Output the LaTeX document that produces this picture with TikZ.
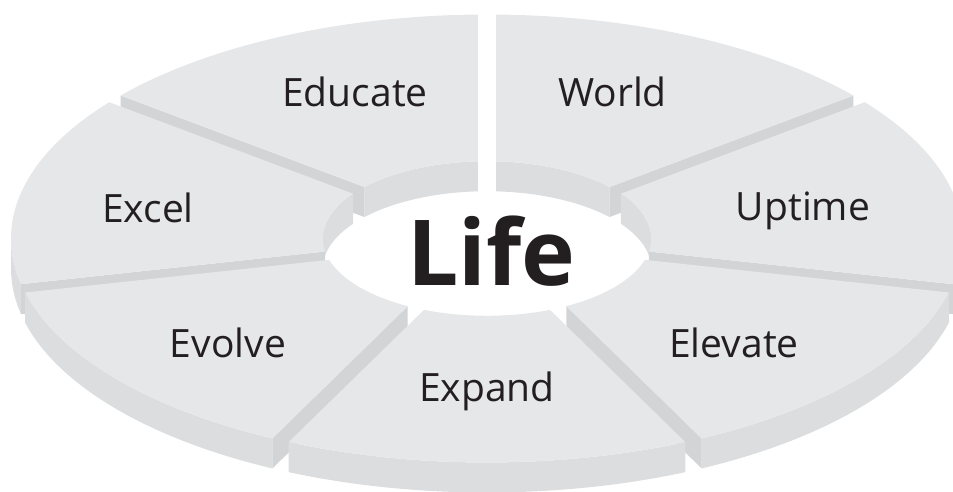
\documentclass[tikz,border=0pt]{standalone}
\usepackage{fontspec}
\setmainfont{Open Sans}
\usetikzlibrary{calc}
\definecolor{topface}{HTML}{E6E7E8}
\definecolor{wallface}{HTML}{DCDDDF}
\definecolor{cutface}{HTML}{D3D4D6}
\definecolor{ink}{HTML}{231F20}
\tikzset{
  topf/.style={fill=topface},
  wallf/.style={fill=wallface},
  cutf/.style={fill=cutface},
  lbl/.style={text=ink, font=\fontsize{39}{46}\selectfont, anchor=base, inner sep=0pt},
  biglbl/.style={text=ink, font=\bfseries\fontsize{91}{108}\selectfont, anchor=base, inner sep=0pt},
}
\newcommand\eo{1.09}
\newcommand\ei{3.16}
\newcommand\rin{0.345}
\newcommand\thk{30pt}
\newcommand\topface[2]{%
  \fill[topf] (#1+\eo:1) arc[start angle=#1+\eo, end angle=#2-\eo, radius=1]
    -- (#2-\ei:\rin) arc[start angle=#2-\ei, end angle=#1+\ei, radius=\rin] -- cycle;}
\newcommand\outerwall[2]{%
  \fill[wallf] (#1:1) arc[start angle=#1, end angle=#2, radius=1]
    -- ++(0,-\thk) arc[start angle=#2, end angle=#1, radius=1] -- cycle;}
\newcommand\innerwall[2]{%
  \fill[wallf] (#1:\rin) arc[start angle=#1, end angle=#2, radius=\rin]
    -- ++(0,-\thk) arc[start angle=#2, end angle=#1, radius=\rin] -- cycle;}
\newcommand\cutface[2]{%
  \fill[cutf] (#1:\rin) -- (#2:1) -- ++(0,-\thk) -- ($(#1:\rin)+(0,-\thk)$) -- cycle;}
\begin{document}
\begin{tikzpicture}
\useasboundingbox (0,0) rectangle (953pt,491pt);
\clip (0,0) rectangle (953pt,491pt);
\begin{scope}[shift={(487pt,252.5pt)}, x={(476pt,0pt)}, y={(0pt,224pt)}]
  % World
  \innerwall{38.571+\ei}{90-\ei}
  \cutface{38.571+\ei}{38.571+\eo}
  \topface{38.571}{90}
  % Educate
  \innerwall{90+\ei}{141.429-\ei}
  \cutface{141.429-\ei}{141.429-\eo}
  \topface{90}{141.429}
  % Uptime
  \outerwall{347.143+\eo}{360}
  \innerwall{360}{398.571-\ei}
  \cutface{347.143+\ei}{347.143+\eo}
  \topface{347.143}{398.571}
  % Excel
  \innerwall{141.429+\ei}{180}
  \outerwall{180}{192.857-\eo}
  \cutface{192.857-\ei}{192.857-\eo}
  \topface{141.429}{192.857}
  % Elevate
  \outerwall{295.714+\eo}{347.143-\eo}
  \cutface{295.714+\ei}{295.714+\eo}
  \topface{295.714}{347.143}
  % Evolve
  \outerwall{192.857+\eo}{244.286-\eo}
  \cutface{244.286-\ei}{244.286-\eo}
  \topface{192.857}{244.286}
  % Expand
  \outerwall{244.286+\eo}{295.714-\eo}
  \topface{244.286}{295.714}
\end{scope}
\node[lbl] (educate) at (355pt,384pt) {Educate};
\node[lbl] (world) at (612.5pt,384pt) {World};
\node[lbl] (excel) at (148pt,269pt) {Excel};
\node[lbl] (uptime) at (803pt,271pt) {Uptime};
\node[lbl] (evolve) at (228pt,134pt) {Evolve};
\node[lbl] (expand) at (487pt,90pt) {Expand};
\node[lbl] (elevate) at (734pt,134pt) {Elevate};
\node[biglbl] (life) at (491.5pt,206pt) {Life};
\end{tikzpicture}
\end{document}
